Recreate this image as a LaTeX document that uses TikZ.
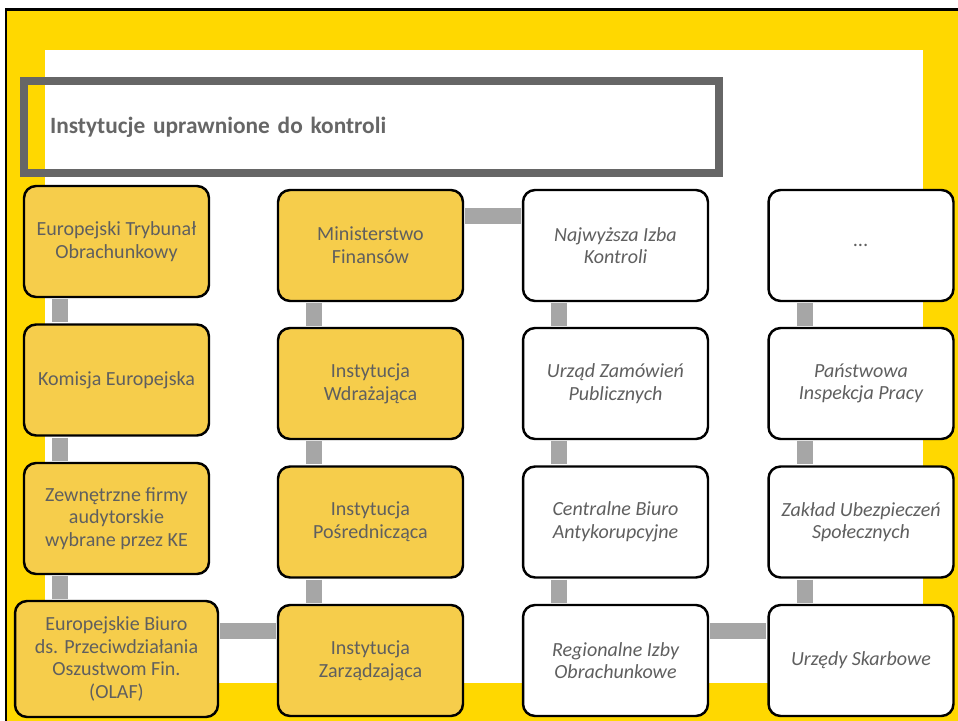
\documentclass[tikz,border=0pt]{standalone}
\usepackage{fontspec}
\setmainfont{Carlito}
\usepackage{xcolor}

\definecolor{frameyellow}{HTML}{FFD800}
\definecolor{boxyellow}{HTML}{F6CD4B}
\definecolor{linkgray}{HTML}{A6A6A6}
\definecolor{titlegray}{HTML}{666666}
\definecolor{textgray}{HTML}{5F5F5F}

\begin{document}
\begin{tikzpicture}[x=0.02cm, y=-0.02cm,
  instbox/.style={rectangle, rounded corners=0.24cm, draw=black, line width=1.4pt,
    minimum width=3.7cm, minimum height=2.22cm, align=center, inner sep=2pt,
    text=textgray, font=\fontsize{11.4}{12.9}\selectfont},
  eubox/.style={instbox, fill=boxyellow},
  plbox/.style={instbox, fill=white, font=\fontsize{11.4}{12.9}\selectfont\itshape},
  link/.style={draw=linkgray, line width=0.32cm, shorten <=0.7pt, shorten >=0.7pt}]
  \path[use as bounding box, clip] (0,0) rectangle (958,721);

  % Draw background
  \fill[white] (0,0) rectangle (958,721);
  \draw[fill=frameyellow, line width=0.06cm] (6,9) rectangle (980,740);
  \fill[white] (45,50) rectangle (923,683);

  % Draw title
  \node[draw=titlegray, line width=0.16cm, minimum height=1.84cm, text width=12.86cm,
    inner xsep=0.52cm, align=left, text=titlegray,
    font=\fontsize{13.3}{15}\selectfont\bfseries] (T) at (371.5,127)
    {Instytucje uprawnione do kontroli};

  % Draw nodes
  \node[eubox] (A1) at (116.5,241.5) {Europejski Trybunał\\Obrachunkowy};
  \node[eubox] (A2) at (116.5,380) {Komisja Europejska};
  \node[eubox] (A3) at (116.5,518.5) {Zewnętrzne firmy\\audytorskie\\wybrane przez KE};
  \node[eubox, minimum width=4.06cm, minimum height=2.32cm] (A4) at (116.5,659)
    {Europejskie Biuro\\ds. Przeciwdziałania\\Oszustwom Fin.\\(OLAF)};

  \node[eubox] (B1) at (370.5,245.5) {Ministerstwo\\Finansów};
  \node[eubox] (B2) at (370.5,383.5) {Instytucja\\Wdrażająca};
  \node[eubox] (B3) at (370.5,522) {Instytucja\\Pośrednicząca};
  \node[eubox] (B4) at (370.5,660.5) {Instytucja\\Zarządzająca};

  \node[plbox] (C1) at (615.5,245.5) {Najwyższa Izba\\Kontroli};
  \node[plbox] (C2) at (615.5,383.5) {Urząd Zamówień\\Publicznych};
  \node[plbox] (C3) at (615.5,522) {Centralne Biuro\\Antykorupcyjne};
  \node[plbox] (C4) at (615.5,660.5) {Regionalne Izby\\Obrachunkowe};

  \node[plbox] (D1) at (861,245.5) {...};
  \node[plbox] (D2) at (861,383.5) {Państwowa\\Inspekcja Pracy};
  \node[plbox] (D3) at (861,522) {Zakład Ubezpieczeń\\Społecznych};
  \node[plbox] (D4) at (861,660.5) {Urzędy Skarbowe};

  % Draw edges
  \draw[link] ([xshift=0.75cm]A1.south west) -- ([xshift=0.75cm]A1.south west |- A2.north);
  \draw[link] ([xshift=0.75cm]A2.south west) -- ([xshift=0.75cm]A2.south west |- A3.north);
  \draw[link] ([xshift=0.75cm]A3.south west) -- ([xshift=0.75cm]A3.south west |- A4.north);
  \draw[link] ([xshift=0.75cm]B1.south west) -- ([xshift=0.75cm]B1.south west |- B2.north);
  \draw[link] ([xshift=0.75cm]B2.south west) -- ([xshift=0.75cm]B2.south west |- B3.north);
  \draw[link] ([xshift=0.75cm]B3.south west) -- ([xshift=0.75cm]B3.south west |- B4.north);
  \draw[link] ([xshift=0.75cm]C1.south west) -- ([xshift=0.75cm]C1.south west |- C2.north);
  \draw[link] ([xshift=0.75cm]C2.south west) -- ([xshift=0.75cm]C2.south west |- C3.north);
  \draw[link] ([xshift=0.75cm]C3.south west) -- ([xshift=0.75cm]C3.south west |- C4.north);
  \draw[link] ([xshift=0.75cm]D1.south west) -- ([xshift=0.75cm]D1.south west |- D2.north);
  \draw[link] ([xshift=0.75cm]D2.south west) -- ([xshift=0.75cm]D2.south west |- D3.north);
  \draw[link] ([xshift=0.75cm]D3.south west) -- ([xshift=0.75cm]D3.south west |- D4.north);
  \draw[link] ([yshift=-0.54cm]B1.north east) -- ([yshift=-0.54cm]B1.north east -| C1.west);
  \draw[link] ([yshift=-0.54cm]B4.north west -| A4.east) -- ([yshift=-0.54cm]B4.north west);
  \draw[link] ([yshift=-0.54cm]C4.north east) -- ([yshift=-0.54cm]C4.north east -| D4.west);
\end{tikzpicture}
\end{document}
